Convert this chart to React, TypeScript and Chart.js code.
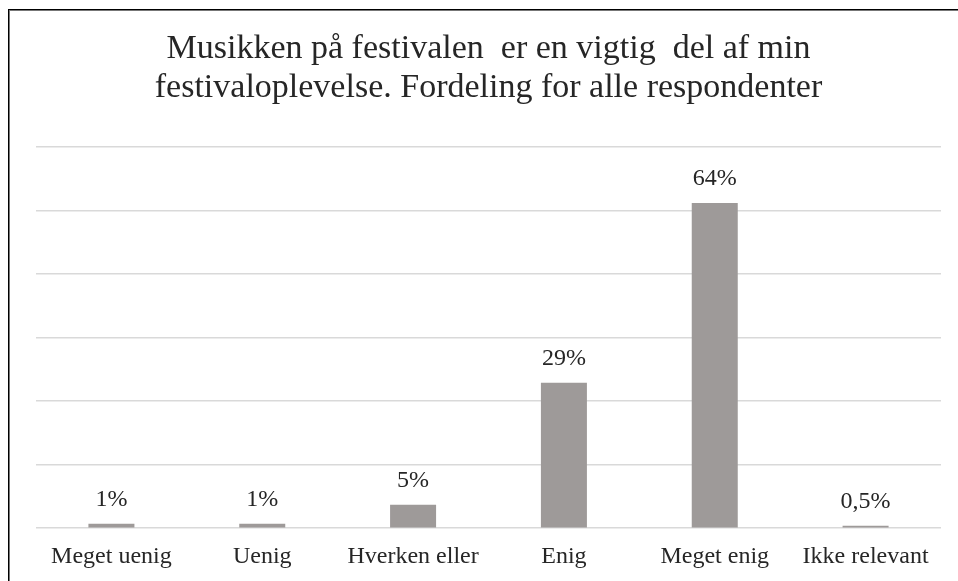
import React, { useEffect, useRef } from "react";
import { Chart, registerables } from "chart.js";

Chart.register(...registerables);

const titleLines = [
  "Musikken på festivalen  er en vigtig  del af min",
  "festivaloplevelse. Fordeling for alle respondenter",
];
const categories = ["Meget uenig", "Uenig", "Hverken eller", "Enig", "Meget enig", "Ikke relevant"];
const shares = [0.9, 0.9, 4.6, 28.6, 64, 0.5];
const shareLabels = ["1%", "1%", "5%", "29%", "64%", "0,5%"];
const yMax = 75;
const yStep = 12.5;

const FONT = "'Liberation Serif', 'Times New Roman', serif";
const TEXT = "#262626";

const dataLabelPlugin = {
  id: "dataLabels",
  afterDatasetsDraw(chart: any) {
    const ctx = chart.ctx;
    const meta = chart.getDatasetMeta(0);
    ctx.save();
    ctx.font = `24px ${FONT}`;
    ctx.fillStyle = TEXT;
    ctx.textAlign = "center";
    ctx.textBaseline = "alphabetic";
    meta.data.forEach((bar: any, i: number) => {
      ctx.fillText(shareLabels[i], bar.x, bar.y - 18);
    });
    ctx.restore();
  },
};

export default function App() {
  const ref = useRef<HTMLCanvasElement | null>(null);
  useEffect(() => {
    if (!ref.current) return;
    const chart = new Chart(ref.current, {
      type: "bar",
      data: {
        labels: categories,
        datasets: [
          {
            data: shares,
            backgroundColor: "#9e9a99",
            barPercentage: 0.305,
            categoryPercentage: 1,
          },
        ],
      },
      options: {
        animation: false,
        responsive: false,
        maintainAspectRatio: false,
        layout: { padding: { left: 36, right: 17, top: 0, bottom: 8 } },
        plugins: {
          legend: { display: false },
          tooltip: { enabled: false },
          title: {
            display: true,
            text: titleLines,
            color: TEXT,
            font: { family: FONT, size: 34, weight: "normal", lineHeight: 38.5 / 34 },
            padding: { top: 30.25, bottom: 39.75 },
          },
        },
        scales: {
          x: {
            grid: { display: false, drawTicks: false },
            border: { display: false },
            ticks: {
              color: TEXT,
              font: { family: FONT, size: 24 },
              padding: 14.5,
              maxRotation: 0,
              autoSkip: false,
            },
          },
          y: {
            min: 0,
            max: yMax,
            ticks: { display: false, stepSize: yStep },
            grid: { color: "#d9d9d9", lineWidth: 1.5, drawTicks: false },
            border: { display: false },
          },
        },
      },
      plugins: [dataLabelPlugin],
    });
    return () => chart.destroy();
  }, []);

  return (
    <div>
      <div
        style={{
          position: "fixed",
          left: 8,
          top: 9,
          width: 1200,
          height: 1200,
          borderTop: "1px solid #000",
          borderLeft: "1px solid #000",
          boxShadow: "inset 1px 1px 0 #777",
        }}
      />
      <canvas
        ref={ref}
        width={958}
        height={594}
        style={{ position: "fixed", left: 0, top: 0, width: 958, height: 594 }}
      />
    </div>
  );
}
